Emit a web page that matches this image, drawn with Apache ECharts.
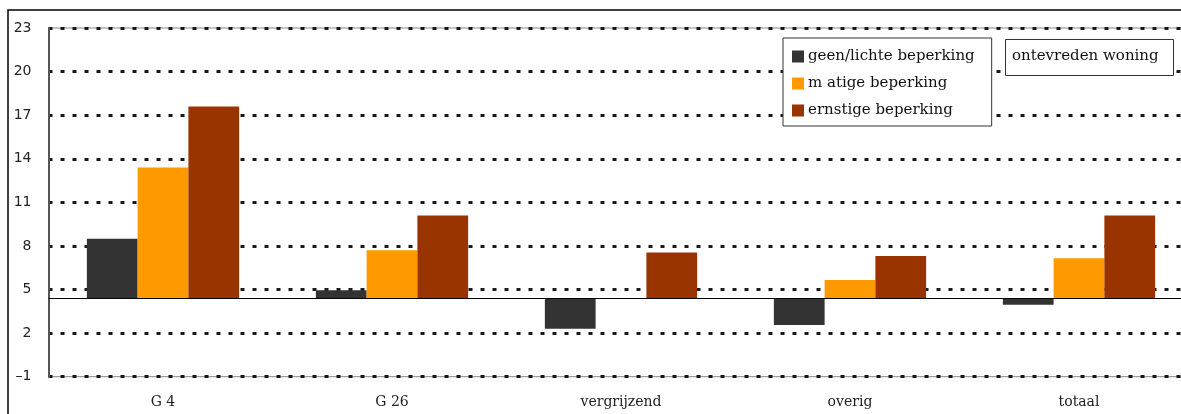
<!DOCTYPE html>
<html>
<head>
<meta charset="utf-8">
<script src="https://cdn.jsdelivr.net/npm/echarts@6/dist/echarts.min.js"></script>
<style>
  html, body { margin: 0; padding: 0; background: #fff; }
  #chart { width: 1181px; height: 414px; }
</style>
</head>
<body>
<div id="chart"></div>
<script>
// Categories and series values (bars grow up or down from the reference level)
const categories = ['G 4', 'G 26', 'vergrijzend', 'overig', 'totaal'];
const seriesNames = ['geen/lichte beperking', 'm atige beperking', 'ernstige beperking'];
const geenLichte = [8.5, 4.95, 2.3, 2.55, 3.95];
const matige = [13.4, 7.7, null, 5.65, 7.15];
const ernstige = [17.6, 10.1, 7.55, 7.3, 10.1];
const yTicks = [-1, 2, 5, 8, 11, 14, 17, 20, 23];
const referenceLevel = 4.4;
const titleText = 'ontevreden woning';

const colors = ['#333333', '#FF9900', '#993300'];
const values = [geenLichte, matige, ernstige];

const serif = '"DejaVu Serif", "Liberation Serif", serif';

// Each visible bar sits on a transparent offset so it spans from the reference level to its value
const series = [];
values.forEach((vals, i) => {
  const stack = 'grp' + i;
  series.push({
    type: 'bar',
    name: 'offset' + i,
    stack: stack,
    silent: true,
    itemStyle: { color: 'transparent' },
    data: vals.map(v => v == null ? null : Math.min(v, referenceLevel))
  });
  const s = {
    type: 'bar',
    name: seriesNames[i],
    stack: stack,
    itemStyle: { color: colors[i] },
    data: vals.map(v => v == null ? null : Math.abs(v - referenceLevel))
  };
  if (i === 2) {
    s.markLine = {
      silent: true,
      symbol: 'none',
      label: { show: false },
      lineStyle: { color: '#000', width: 1.2, type: 'solid' },
      data: [{ yAxis: referenceLevel }]
    };
  }
  series.push(s);
});

const chart = echarts.init(document.getElementById('chart'));
chart.setOption({
  animation: false,
  backgroundColor: '#fff',
  graphic: [{
    type: 'rect',
    shape: { x: 8, y: 10, width: 1200, height: 420 },
    style: { fill: 'none', stroke: '#000', lineWidth: 1.5 },
    z: -1
  }],
  title: {
    text: titleText,
    left: 1005,
    top: 39,
    padding: [10, 15, 12, 7],
    borderColor: '#333',
    borderWidth: 1,
    backgroundColor: '#fff',
    textStyle: { fontFamily: serif, fontSize: 15, fontWeight: 'normal', color: '#111' }
  },
  legend: {
    data: seriesNames,
    orient: 'vertical',
    left: 783,
    top: 38,
    padding: [11, 17, 8, 9],
    itemGap: 12,
    itemWidth: 12,
    itemHeight: 12,
    icon: 'rect',
    backgroundColor: '#fff',
    borderColor: '#333',
    borderWidth: 1,
    borderRadius: 0,
    textStyle: { fontFamily: serif, fontSize: 15, color: '#111', padding: [0, 0, 0, -1] }
  },
  grid: {
    left: 48.5,
    width: 1145,
    top: 28,
    bottom: 37.3,
    outerBoundsMode: 'none',
    show: true,
    borderColor: '#888',
    borderWidth: 1
  },
  xAxis: {
    type: 'category',
    data: categories,
    axisLine: { show: false },
    axisTick: { show: false },
    axisLabel: { margin: 19, fontFamily: serif, fontSize: 14, color: '#222' }
  },
  yAxis: {
    type: 'value',
    min: yTicks[0],
    max: yTicks[yTicks.length - 1],
    interval: yTicks[1] - yTicks[0],
    axisLine: { show: true, lineStyle: { color: '#555', width: 2 } },
    axisTick: { show: false },
    axisLabel: {
      margin: 17, fontFamily: '"DejaVu Sans", sans-serif', fontSize: 14, color: '#222',
      padding: [0, 0, 6, 0],
      formatter: v => String(v).replace('-', '\u2013')
    },
    splitLine: { show: true, lineStyle: { color: '#1a1a1a', width: 3, type: [4, 8] } }
  },
  series: series.map(s => Object.assign(s, { barGap: '0%', barCategoryGap: '33.5%' }))
});
</script>
</body>
</html>
